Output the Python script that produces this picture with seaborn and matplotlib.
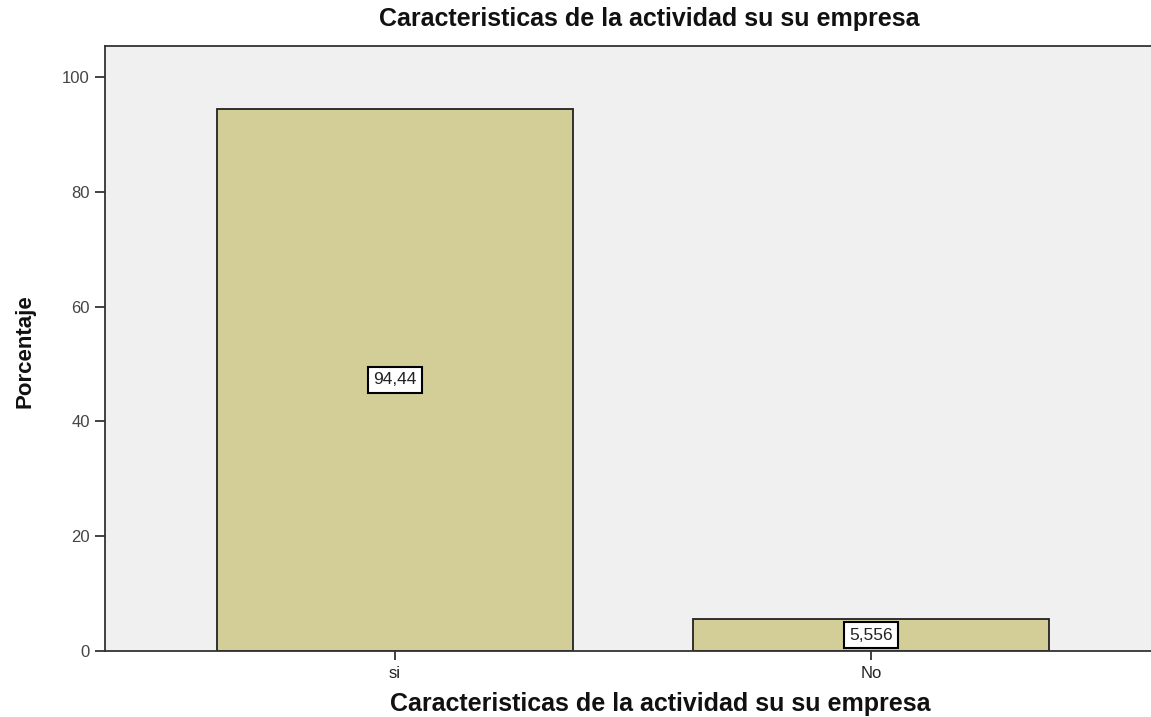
import matplotlib
matplotlib.use("Agg")
import matplotlib.pyplot as plt
import seaborn as sns
import pandas as pd

# datos
categorias = ["si", "No"]
porcentajes = [94.44, 5.556]
etiquetas = ["94,44", "5,556"]
titulo = "Caracteristicas de la actividad su su empresa"

df = pd.DataFrame({"cat": categorias, "pct": porcentajes})

sns.set_style("white")
plt.rcParams["font.family"] = ["Liberation Sans", "DejaVu Sans"]

fig = plt.figure(figsize=(11.51, 7.17), dpi=100)
ax = fig.add_axes([0.0912, 0.092, 0.9175, 0.844])
ax.set_facecolor("#F0F0F0")

sns.barplot(data=df, x="cat", y="pct", color="#D3CE97", edgecolor="#222222",
            linewidth=1.3, width=0.748, saturation=1, ax=ax)

for i, (v, txt) in enumerate(zip(porcentajes, etiquetas)):
    ax.text(i, v / 2, txt, ha="center", va="center", fontsize=12.5, color="#222222",
            bbox=dict(boxstyle="square,pad=0.3", facecolor="white",
                      edgecolor="black", linewidth=1.5))

ax.set_xlim(-0.609, 1.609)
ax.set_ylim(0, 105.4)
ax.set_yticks([0, 20, 40, 60, 80, 100])
ax.tick_params(axis="y", direction="out", length=7, width=1.3, labelsize=12,
               left=True, pad=4, colors="#333333", labelcolor="#444444")
ax.tick_params(axis="x", direction="out", length=6.5, width=1.3, labelsize=12,
               bottom=True, pad=4, colors="#333333", labelcolor="#222222")

for s in ax.spines.values():
    s.set_color("#333333")
    s.set_linewidth(1.3)

ax.set_xlabel(titulo, fontsize=18, fontweight="bold", color="#111111", va="center")
ax.xaxis.set_label_coords(0.526, -0.087)
ax.set_ylabel("Porcentaje", fontsize=16, fontweight="bold", color="#111111", va="center")
ax.yaxis.set_label_coords(-0.076, 0.495)
fig.text(0.564, 0.973, titulo, ha="center", va="center", fontsize=18,
         fontweight="bold", color="#111111")

fig.savefig("out.png", dpi=100)
